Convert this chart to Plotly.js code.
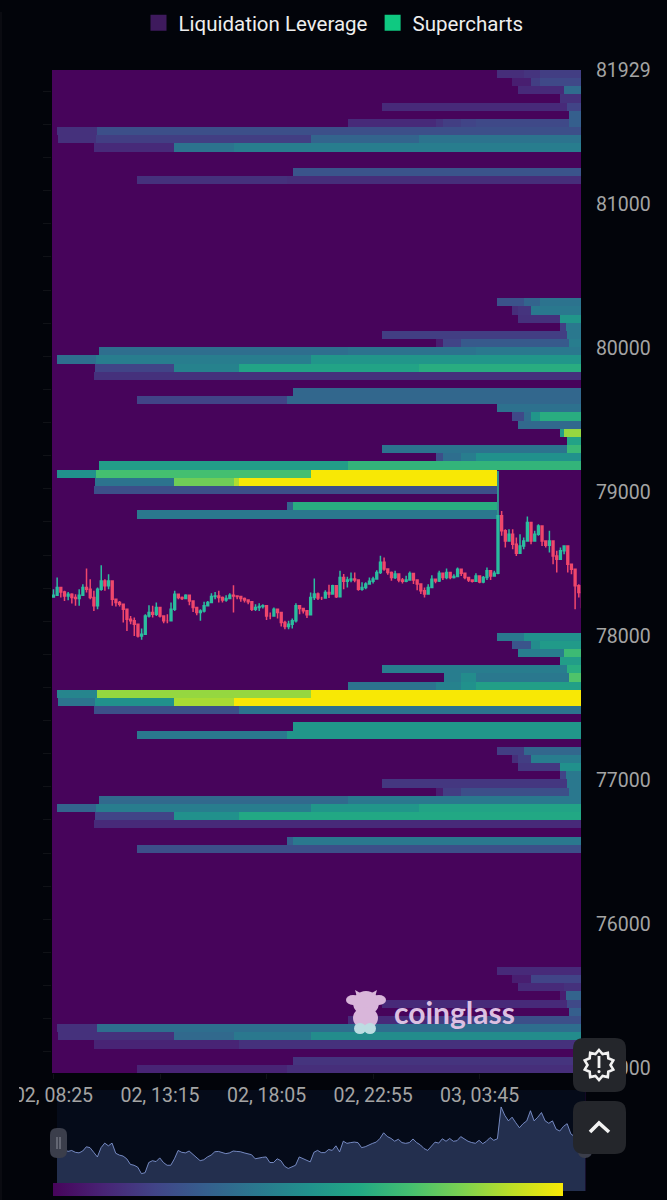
<!DOCTYPE html>
<html>
<head>
<meta charset="utf-8">
<script src="https://cdn.plot.ly/plotly-3.0.1.min.js"></script>
<style>html,body{margin:0;padding:0;background:#02040a;}#chart{width:667px;height:1200px;}</style>
</head>
<body>
<div id="chart"></div>
<script>
// ---- Liquidation bands: [rowFromTop, startMinute, level, startMinute, level, ...]
// minutes are counted from windowStart, levels are 0-100.
const bandsA = [
 [0,1211,13,1285,15,1328,18],[1,1252,8,1304,18,1328,22],[2,1268,12,1394,35],[3,1383,14],
 [4,897,12,1402,20],[5,1407,30],[6,806,12,1045,15,1064,18,1113,20,1154,22,1407,30],
 [7,14,14,122,24],[8,16,14,119,18,705,32,999,38],[9,113,12,331,38,495,42],
 [12,655,26],[13,232,14,641,13]
];
const bandsB = [
 [28,1211,25,1285,32,1328,38],[29,1252,13,1268,15,1304,40],[30,1268,14,1383,52],[31,1383,18,1399,40],
 [32,897,18,1402,40],[33,1045,8,1064,20,1113,28,1407,42],[34,128,36,806,38,1154,40],
 [35,14,36,119,42,705,52],[36,117,20,331,44,509,58,999,62],[37,113,14],
 [39,655,33],[40,232,20,641,33]
];
const bandsC = [
 [41,1211,37],[42,1252,22,1285,35,1304,52,1328,62],[43,1268,34],[44,1383,55,1394,84],[45,1402,58],
 [46,897,38,1402,67],[47,1045,24,1064,36,1113,42,1154,50],[48,128,55,806,65],
 [49,14,50,119,70,705,100,1211,0],[50,117,38,331,78,495,88,509,100,1211,0],[51,113,24,1211,0],
 [53,641,32,655,62,1211,0],[54,232,40,1211,0]
];
const bandsD = [
 [69,1211,40,1285,50],[70,1252,26,1304,48,1328,54],[71,1268,42,1394,68],[72,1383,55],
 [73,897,42,1402,62],[74,1067,42,1113,48,1154,40,1407,72],[75,806,38,1045,44,1113,50,1154,56],
 [76,14,45,122,84,705,100],[77,16,38,117,50,331,87,495,100],[78,113,24,509,38],
 [80,655,52],[81,232,40,641,52]
];
const bandsE = [
 [83,1211,18,1285,33],[84,1252,13,1268,18,1304,42],[85,1268,16,1383,50],[86,1383,20,1399,40],
 [87,897,16,1402,40],[88,1045,8,1064,18,1113,24,1407,40],[89,128,34,806,40],
 [90,14,32,119,42,705,52,999,58],[91,117,20,331,50,509,60],[92,113,12],
 [94,641,30,655,40],[95,232,24]
];
const bandsF = [
 [110,1211,12],[111,1252,8,1304,20],[112,1268,12,1394,14],[113,1383,8,1399,32],
 [114,897,12,1402,22],[115,1407,30],[116,806,12,1045,18,1154,24],
 [117,14,14,122,36],[118,16,14,331,34,495,40,705,48],[119,113,10,509,14],
 [121,655,15],[122,232,10,641,13]
];
const allBands = [...bandsA,...bandsB,...bandsC,...bandsD,...bandsE,...bandsF];

// ---- Candles, one every 10 minutes from candleStart
const candleClose = [78282,78335,78305,78277,78289,78266,78259,78282,78335,78324,78266,78208,78324,78381,78347,78381,78254,78231,78219,78185,78115,78104,78080,77999,78011,78138,78161,78150,78196,78138,78104,78104,78185,78289,
78266,78259,78282,78242,78196,78161,78173,78208,78231,78273,78277,78266,78249,78259,78282,78277,78273,78259,78249,78236,78185,78196,78203,78208,78138,78138,78185,78161,78092,78064,78080,78104,78208,78189,
78174,78146,78266,78290,78262,78262,78301,78290,78347,78271,78405,78378,78387,78394,78387,78324,78336,78359,78378,78394,78440,78510,78463,78440,78405,78429,78387,78378,78387,78433,78387,78359,78313,78290,
78335,78393,78381,78435,78404,78439,78404,78411,78462,78435,78404,78388,78379,78416,78374,78404,78451,78416,78435,78833,78729,78659,78705,78636,78573,78624,78659,78786,78659,78705,78763,78659,78629,78659,78555,78532,78590,78624,78497,78462,78347,78300,78196];
const candleHigh = [78324,78405,78324,78312,78305,78296,78289,78324,78358,78467,78393,78312,78335,78490,78393,78428,78335,78254,78242,78208,78185,78138,78127,78080,78050,78150,78212,78208,78231,78185,78138,78150,78231,78312,
78282,78273,78289,78277,78219,78196,78185,78236,78242,78296,78305,78312,78273,78282,78296,78351,78282,78273,78266,78254,78236,78219,78226,78219,78196,78161,78196,78173,78138,78104,78104,78120,78226,78208,
78185,78169,78301,78398,78301,78271,78317,78354,78354,78313,78452,78429,78410,78440,78440,78382,78371,78371,78405,78410,78456,78556,78544,78463,78447,78452,78417,78401,78417,78447,78417,78387,78347,78336,
78358,78421,78398,78451,78428,78467,78428,78428,78474,78451,78428,78404,78393,78435,78404,78416,78474,78451,78451,79145,78867,78740,78740,78740,78682,78705,78682,78828,78786,78729,78775,78740,78659,78729,78659,78590,78613,78629,78601,78497,78428,78358,78254];
const candleLow = [78266,78300,78266,78242,78247,78224,78208,78208,78300,78300,78254,78173,78185,78312,78312,78324,78208,78203,78203,78092,78034,78080,77999,77988,77972,78104,78127,78127,78138,78127,78087,78087,78150,78173,
78254,78249,78266,78212,78166,78143,78104,78161,78219,78231,78254,78231,78231,78236,78266,78161,78254,78236,78231,78219,78173,78173,78173,78189,78110,78115,78138,78120,78064,78046,78046,78050,78092,78150,
78155,78123,78162,78248,78248,78248,78266,78262,78290,78262,78278,78324,78336,78371,78371,78313,78313,78324,78359,78364,78417,78429,78452,78424,78382,78394,78371,78364,78371,78394,78359,78317,78290,78266,
78312,78358,78365,78374,78388,78393,78393,78398,78416,78416,78393,78374,78370,78381,78365,78365,78388,78388,78411,78428,78694,78613,78659,78601,78555,78590,78601,78705,78636,78659,78694,78624,78613,78578,78497,78439,78532,78567,78439,78428,78185,78266,78161];
const firstOpen = 78270;

// ---- Axis labels
const yTickVals = [81929,81000,80000,79000,78000,77000,76000,75000];
const yTickText = ['81929','81000','80000','79000','78000','77000','76000','75000'];
const xTickVals = ['2025-04-02 08:25','2025-04-02 13:15','2025-04-02 18:05','2025-04-02 22:55','2025-04-03 03:45'];
const xTickText = ['02, 08:25','02, 13:15','02, 18:05','02, 22:55','03, 03:45'];
const seriesNames = ['Liquidation Leverage','Supercharts'];

// ---- Scales
const windowStart = Date.UTC(2025,3,2,8,21);
const windowMinutes = 1440;
const candleStart = Date.UTC(2025,3,2,8,25);
const priceTop = 81929, priceBottom = 74964, rowCount = 123;
const colorScale = [[0,'#47045b'],[0.1,'#482475'],[0.2,'#414487'],[0.3,'#355f8d'],[0.4,'#2a788e'],[0.5,'#21918c'],[0.6,'#22a884'],[0.7,'#44bf70'],[0.8,'#7ad151'],[0.9,'#bddf26'],[1,'#f8e805']];

// ---- Build the heatmap grid
const edgeSet = new Set([0,windowMinutes]);
allBands.forEach(b=>{for(let i=1;i<b.length;i+=2) edgeSet.add(b[i]);});
const edges = [...edgeSet].sort((a,b)=>a-b);
const step = (priceTop-priceBottom)/rowCount;
const yEdges = [];
for(let j=0;j<=rowCount;j++) yEdges.push(priceBottom+j*step);
const z = [];
for(let j=0;j<rowCount;j++) z.push(new Array(edges.length-1).fill(0));
allBands.forEach(b=>{
  const row = z[rowCount-1-b[0]];
  for(let i=1;i<b.length;i+=2){
    const from=b[i], to=(i+2<b.length)?b[i+2]:windowMinutes, lv=b[i+1];
    for(let c=0;c<edges.length-1;c++) if(edges[c]>=from && edges[c]<to) row[c]=lv;
  }
});
const xEdges = edges.map(m=>windowStart+m*60000);
const candleX = candleClose.map((_,i)=>candleStart+i*600000);
const candleOpen = candleClose.map((_,i)=>i===0?firstOpen:candleClose[i-1]);

// ---- Pixel helpers for the decorations
const px=x=>x/667, py=y=>1-y/1200;
const P=(x,y)=>px(x)+','+py(y);
function roundRect(x0,y0,x1,y1,r){
  return 'M'+P(x0+r,y0)+' L'+P(x1-r,y0)+' Q'+P(x1,y0)+' '+P(x1,y0+r)+' L'+P(x1,y1-r)+' Q'+P(x1,y1)+' '+P(x1-r,y1)+
         ' L'+P(x0+r,y1)+' Q'+P(x0,y1)+' '+P(x0,y1-r)+' L'+P(x0,y0+r)+' Q'+P(x0,y0)+' '+P(x0+r,y0)+' Z';
}
const paperShape=o=>Object.assign({xref:'paper',yref:'paper'},o);
const rectShape=(x0,y0,x1,y1,fill,layer)=>paperShape({type:'rect',x0:px(x0),x1:px(x1),y0:py(y0),y1:py(y1),fillcolor:fill,line:{width:0},layer:layer||'above'});
const ellipseShape=(x0,y0,x1,y1,fill)=>paperShape({type:'circle',x0:px(x0),x1:px(x1),y0:py(y0),y1:py(y1),fillcolor:fill,line:{width:0},layer:'above'});
const pathShape=(d,fill,lineColor,lineWidth)=>paperShape({type:'path',path:d,fillcolor:fill,line:{color:lineColor||'rgba(0,0,0,0)',width:lineWidth||0},layer:'above'});

function badgePath(cx,cy,rOut,rIn,n){
  let d='';
  for(let i=0;i<n*2;i++){
    const a=Math.PI*i/n-Math.PI/2, r=i%2?rIn:rOut;
    d+=(i?' L':'M')+P(cx+r*Math.cos(a),cy+r*Math.sin(a));
  }
  return d+' Z';
}
const mascot='#d9b6da';
const shapes=[
  rectShape(57,1090,585.5,1191,'#050b19','below'),
  rectShape(0,1076,19,1112,'#02040a'),
  rectShape(0.5,12,1.5,1200,'#121318'),
  // slider handles
  pathShape(roundRect(50,1128,67,1158,7),'#3b3e4b'),
  rectShape(56.5,1137,57.5,1149,'#8b8e99'),
  rectShape(59.5,1137,60.5,1149,'#8b8e99'),
  pathShape(roundRect(578,1128,592,1158,7),'#3b3e4b'),
  // floating buttons
  pathShape(roundRect(573,1038,626,1092,11),'#24262b'),
  pathShape(roundRect(573,1101,626,1154,11),'#24262b'),
  pathShape(badgePath(599,1065,15,11.5,10),'rgba(0,0,0,0)','#f2f2f2',2.6),
  rectShape(597.6,1056,600.4,1068,'#f2f2f2'),
  ellipseShape(597.4,1070,600.6,1073.2,'#f2f2f2'),
  pathShape('M'+P(590,1132)+' L'+P(599,1123)+' L'+P(609,1132),'rgba(0,0,0,0)','#f2f2f2',3.6),
  // watermark mascot
  pathShape('M'+P(357,997)+' L'+P(355,990)+' L'+P(362,994)+' Z',mascot),
  pathShape('M'+P(375,997)+' L'+P(377,990)+' L'+P(370,994)+' Z',mascot),
  ellipseShape(346,995,360,1005,mascot),
  ellipseShape(372,995,386,1005,mascot),
  ellipseShape(353,991,379,1015,mascot),
  ellipseShape(353,1007,378,1029,mascot),
  ellipseShape(354,1023,366,1034,'#bcdde2'),
  ellipseShape(364,1023,376,1034,'#bcdde2')
];

const traces=[
  {type:'heatmap',x:xEdges,y:yEdges,z:z,zmin:0,zmax:100,colorscale:colorScale,xaxis:'x',yaxis:'y',hoverinfo:'skip',showscale:true,
   colorbar:{orientation:'h',x:px(308),xanchor:'center',y:py(1196),yanchor:'bottom',lenmode:'pixels',len:510,thicknessmode:'pixels',thickness:13,outlinewidth:0,borderwidth:0,xpad:0,ypad:0,showticklabels:false,ticks:''}},
  {type:'candlestick',x:candleX,open:candleOpen,high:candleHigh,low:candleLow,close:candleClose,xaxis:'x',yaxis:'y2',showlegend:false,hoverinfo:'skip',whiskerwidth:0,
   increasing:{line:{color:'#2bbd9f',width:1.5},fillcolor:'#2bbd9f'},
   decreasing:{line:{color:'#f0476c',width:1.5},fillcolor:'#f0476c'}},
  {type:'scatter',mode:'lines',x:candleX,y:candleClose,xaxis:'x2',yaxis:'y3',fill:'tozeroy',fillcolor:'#232f4e',line:{color:'#8ea4e4',width:0.8},showlegend:false,hoverinfo:'skip'},
  {type:'scatter',mode:'markers',name:seriesNames[0],x:[null],y:[null],xaxis:'x',yaxis:'y2',marker:{symbol:'square',size:16,color:'#3e1a5d'},showlegend:true},
  {type:'scatter',mode:'markers',name:seriesNames[1],x:[null],y:[null],xaxis:'x',yaxis:'y2',marker:{symbol:'square',size:16,color:'#0fc981'},showlegend:true}
];

const gray='#a4a4a4';
const layout={
  width:667,height:1200,autosize:false,margin:{l:0,r:0,t:0,b:0,pad:0},
  paper_bgcolor:'#02040a',plot_bgcolor:'#47045b',
  font:{family:'Roboto, sans-serif',color:gray},
  showlegend:true,
  legend:{orientation:'h',x:0.5,xanchor:'center',y:py(3),yanchor:'top',bgcolor:'rgba(0,0,0,0)',font:{family:'Roboto, sans-serif',size:20.5,color:'#eeeeee'},itemwidth:30,traceorder:'normal'},
  xaxis:{type:'date',domain:[px(52),px(581)],range:['2025-04-02 08:21','2025-04-03 08:21'],anchor:'y',tickmode:'array',tickvals:xTickVals,ticktext:xTickText,tickangle:0,
    ticks:'outside',ticklen:5,tickcolor:'#101217',showgrid:false,zeroline:false,showline:false,rangeslider:{visible:false},tickfont:{family:'Roboto, sans-serif',size:19.5,color:gray}},
  yaxis:{domain:[py(1073),py(70)],range:[priceBottom,priceTop],side:'left',anchor:'x',ticks:'outside',ticklen:8,tickcolor:'#101217',tick0:80171,dtick:230,showticklabels:false,showgrid:false,zeroline:false,showline:false},
  yaxis2:{domain:[py(1073),py(70)],range:[priceBottom,priceTop],overlaying:'y',side:'right',anchor:'x',tickmode:'array',tickvals:yTickVals,ticktext:yTickText,ticks:'outside',ticklen:10,tickcolor:'rgba(0,0,0,0)',showgrid:false,zeroline:false,showline:false,tickfont:{family:'Roboto, sans-serif',size:19.5,color:gray}},
  xaxis2:{type:'date',domain:[px(57),px(585.5)],range:['2025-04-02 08:25','2025-04-03 08:25'],anchor:'y3',visible:false,rangeslider:{visible:false}},
  yaxis3:{domain:[py(1191),py(1090)],range:[77782,79045],anchor:'x2',visible:false},
  shapes:shapes,
  annotations:[
    {xref:'paper',yref:'paper',x:px(392),y:py(1012),xanchor:'left',yanchor:'middle',text:'<b>coinglass</b>',showarrow:false,font:{family:'Lato, sans-serif',size:30,color:'#dcc0e2'}}
  ]
};
Plotly.newPlot('chart',traces,layout,{staticPlot:true,displayModeBar:false});
</script>
</body>
</html>
